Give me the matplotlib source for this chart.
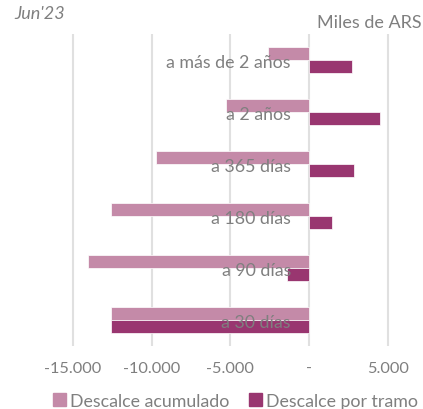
import matplotlib.pyplot as plt
import numpy as np
from matplotlib.patches import Patch
from matplotlib.ticker import FuncFormatter

plt.rcParams['font.family'] = ['Lato', 'DejaVu Sans']

tramos = ['a más de 2 años', 'a 2 años', 'a 365 días', 'a 180 días', 'a 90 días', 'a 30 días']
acumulado = [-2600, -5270, -9720, -12580, -14040, -12580]
por_tramo = [2730, 4500, 2860, 1460, -1400, -12580]
xticks = [-15000, -10000, -5000, 0, 5000]

c_acum = '#c48aa8'
c_tramo = '#993670'
grey = '#7f7f7f'

fig = plt.figure(figsize=(4.23, 4.10), dpi=100)
ax = fig.add_axes([0.135, 0.154, 0.856, 0.761])

y = np.arange(len(tramos))
h = 0.25
ax.barh(y - h / 2, acumulado, height=h, color=c_acum, edgecolor='white', linewidth=0.5, zorder=2)
ax.barh(y + h / 2, por_tramo, height=h, color=c_tramo, edgecolor='white', linewidth=0.5, zorder=2)

for yi, lab in zip(y, tramos):
    ax.text(-1150, yi + 0.05, lab, ha='right', va='center', color=grey, fontsize=12.8, zorder=3)

ax.set_xlim(-16000, 7000)
ax.set_ylim(len(tramos) - 0.5, -0.5)
ax.set_xticks(xticks)

def fmt(v, pos):
    if v == 0:
        return '-'
    return f'{v:,.0f}'.replace(',', '.')

ax.xaxis.set_major_formatter(FuncFormatter(fmt))
ax.set_yticks([])
ax.tick_params(axis='x', length=0, labelsize=11.8, labelcolor=grey, pad=11)
ax.grid(axis='x', color='#e0e0e0', linewidth=1.5, zorder=0)
for s in ax.spines.values():
    s.set_visible(False)

fig.text(0.035, 0.965, "Jun'23", style='italic', color=grey, fontsize=13, va='center')
fig.text(0.996, 0.945, 'Miles de ARS', color=grey, fontsize=13, va='center', ha='right')

handles = [Patch(color=c_acum, label='Descalce acumulado'), Patch(color=c_tramo, label='Descalce por tramo')]
fig.legend(handles=handles, loc='lower right', bbox_to_anchor=(1.0, -0.012), ncol=2, frameon=False,
           fontsize=12.8, labelcolor=grey, handlelength=0.75, handleheight=0.75, handletextpad=0.2,
           columnspacing=1.1, borderaxespad=0.1, borderpad=0.2)

fig.savefig('out.png', dpi=100)
